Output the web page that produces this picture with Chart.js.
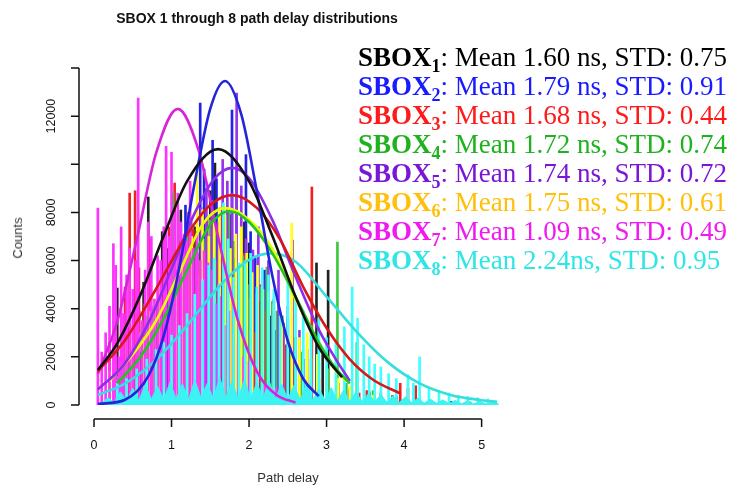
<!DOCTYPE html>
<html>
<head>
<meta charset="utf-8">
<script src="https://cdn.jsdelivr.net/npm/chart.js@4.4.0/dist/chart.umd.min.js"></script>
<style>
  html, body { margin: 0; padding: 0; background: #fff; }
  #wrap { position: relative; width: 731px; height: 490px; overflow: hidden; }
  #plot { position: absolute; left: 0; top: 0; }
  .title { position: absolute; left: 0; top: 10px; width: 514px; text-align: center;
           font: bold 14px "Liberation Sans", Arial, sans-serif; line-height: 16px; color: #111; }
  .xlab { position: absolute; left: 188px; top: 470px; width: 200px; text-align: center;
          font: 13px "Liberation Sans", Arial, sans-serif; line-height: 16px; color: #333; }
  .ylab { position: absolute; left: 18px; top: 238px; transform: translate(-50%, -50%) rotate(-90deg);
          font: 13px "Liberation Sans", Arial, sans-serif; line-height: 16px; color: #333; white-space: nowrap; }
  #legend { position: absolute; left: 358px; top: 43px; white-space: nowrap;
            font-family: "Liberation Serif", "Times New Roman", serif; font-size: 27px; line-height: 29px; }
  #legend div { height: 29px; }
  #legend b sub { font-size: 18px; line-height: 0; vertical-align: -6px; }
</style>
</head>
<body>
<div id="wrap">
  <canvas id="plot" width="731" height="490"></canvas>
  <div class="title">SBOX 1 through 8 path delay distributions</div>
  <div class="xlab">Path delay</div>
  <div class="ylab">Counts</div>
  <div id="legend">
    <div style="color:#000000"><b>SBOX<sub>1</sub></b>: Mean 1.60 ns, STD: 0.75</div>
    <div style="color:#1a1aff"><b>SBOX<sub>2</sub></b>: Mean 1.79 ns, STD: 0.91</div>
    <div style="color:#ff1a1a"><b>SBOX<sub>3</sub></b>: Mean 1.68 ns, STD: 0.44</div>
    <div style="color:#1fb21f"><b>SBOX<sub>4</sub></b>: Mean 1.72 ns, STD: 0.74</div>
    <div style="color:#7a16d6"><b>SBOX<sub>5</sub></b>: Mean 1.74 ns, STD: 0.72</div>
    <div style="color:#ffbf0a"><b>SBOX<sub>6</sub></b>: Mean 1.75 ns, STD: 0.61</div>
    <div style="color:#f01af0"><b>SBOX<sub>7</sub></b>: Mean 1.09 ns, STD: 0.49</div>
    <div style="color:#2ee6e6"><b>SBOX<sub>8</sub></b>: Mean 2.24ns, STD: 0.95</div>
  </div>
</div>
<script>
// Axis ticks
const xTicks = [0, 1, 2, 3, 4, 5];
const yTicks = [0, 2000, 4000, 6000, 8000, 10000, 12000, 14000];
const yTickLabels = ['0', '2000', '4000', '6000', '8000', '', '12000', ''];

// Histogram spikes (path delay in ns, counts)
const spikeX1 = [0.30, 0.38, 0.45, 0.58, 0.64, 0.70, 0.82, 0.88, 0.95, 1.05, 1.12, 1.18, 1.24, 1.30, 1.36, 1.42, 1.50, 1.56, 1.66, 1.76, 1.82, 1.88, 1.94, 2.00, 2.12, 2.18, 2.25, 2.38, 2.44, 2.52, 2.60, 2.70, 2.87, 2.95, 3.02, 3.25, 3.55, 3.90, 4.60, 4.85];
const spikeY1 = [4860, 2600, 3200, 3900, 5100, 8640, 4300, 7200, 6500, 5200, 8100, 6100, 4700, 7400, 6300, 5600, 8900, 10050, 6800, 7900, 6100, 5300, 7600, 6730, 3600, 5200, 4100, 3000, 3400, 2300, 2800, 1900, 5900, 2100, 5600, 900, 550, 350, 150, 120];
const spikeX2 = [0.55, 0.64, 0.72, 0.88, 0.96, 1.02, 1.12, 1.18, 1.25, 1.31, 1.37, 1.42, 1.47, 1.53, 1.58, 1.64, 1.70, 1.78, 1.84, 1.90, 1.96, 2.02, 2.08, 2.14, 2.20, 2.28, 2.35, 2.42, 2.50, 2.60, 2.80, 3.05, 3.40];
const spikeY2 = [1800, 2400, 2900, 3700, 5100, 6200, 4800, 8300, 7600, 6600, 12545, 9800, 6900, 11000, 9400, 8200, 7300, 12250, 9900, 5800, 10400, 7200, 6100, 4300, 5600, 3700, 3100, 2700, 2100, 1500, 900, 500, 300];
const spikeX3 = [0.20, 0.28, 0.35, 0.40, 0.46, 0.53, 0.58, 0.65, 0.72, 0.78, 0.84, 0.90, 0.97, 1.04, 1.10, 1.16, 1.22, 1.28, 1.34, 1.40, 1.46, 1.52, 1.58, 1.64, 1.72, 1.80, 1.87, 1.94, 2.00, 2.08, 2.15, 2.22, 2.30, 2.40, 2.48, 2.58, 2.68, 2.81, 2.90, 3.00, 3.15, 3.30, 3.42, 3.52, 3.62, 3.70, 3.85, 3.95, 4.05, 4.15];
const spikeY3 = [2600, 3100, 3300, 4900, 8800, 8900, 5700, 4200, 6900, 3500, 4600, 5600, 7400, 9220, 6800, 6100, 8000, 7300, 5400, 5000, 7800, 6600, 6000, 8200, 7000, 4800, 5600, 6300, 4400, 3000, 5000, 3900, 3100, 2200, 2500, 1800, 1400, 9055, 1100, 900, 900, 700, 500, 600, 450, 500, 400, 900, 700, 800];
const spikeX4 = [0.30, 0.40, 0.48, 0.55, 0.62, 0.69, 0.76, 0.84, 0.92, 1.02, 1.08, 1.14, 1.20, 1.26, 1.32, 1.38, 1.44, 1.50, 1.56, 1.62, 1.68, 1.74, 1.80, 1.86, 1.92, 1.98, 2.04, 2.10, 2.16, 2.23, 2.30, 2.36, 2.43, 2.50, 2.60, 2.68, 2.80, 2.90, 3.02, 3.14, 3.25, 3.39, 3.60, 3.85];
const spikeY4 = [1200, 1800, 2400, 2900, 3300, 3700, 4100, 4700, 5200, 8800, 6200, 6600, 7000, 5900, 6300, 5400, 6900, 7700, 7300, 6400, 7900, 8000, 6800, 5500, 6200, 5000, 5300, 4600, 4900, 5730, 4300, 3900, 3700, 3600, 2800, 2200, 1900, 1700, 1500, 6770, 900, 2600, 600, 400];
const spikeX5 = [0.60, 0.70, 0.78, 0.85, 0.92, 0.99, 1.06, 1.12, 1.18, 1.25, 1.32, 1.38, 1.45, 1.52, 1.60, 1.66, 1.72, 1.78, 1.84, 1.90, 1.96, 2.05, 2.12, 2.18, 2.25, 2.32, 2.38, 2.44, 2.50, 2.56, 2.65, 2.75, 2.88, 3.00, 3.15, 3.30];
const spikeY5 = [2200, 2600, 3100, 4400, 3800, 4700, 5600, 6300, 7100, 7800, 6400, 8200, 9000, 8500, 7600, 10200, 9300, 8800, 12960, 9100, 6900, 6440, 7400, 5200, 6000, 4400, 5600, 3400, 4100, 6850, 3100, 2300, 1900, 1200, 900, 600];
const spikeX6 = [0.20, 0.28, 0.35, 0.42, 0.50, 0.57, 0.64, 0.71, 0.78, 0.85, 0.92, 0.99, 1.06, 1.13, 1.20, 1.26, 1.33, 1.40, 1.48, 1.55, 1.62, 1.69, 1.76, 1.83, 1.90, 1.97, 2.04, 2.11, 2.18, 2.25, 2.32, 2.42, 2.55, 2.65, 2.75, 2.88, 3.00, 3.15, 3.30, 3.60];
const spikeY6 = [1400, 1700, 2200, 2600, 3300, 3000, 2800, 3900, 4400, 4800, 5100, 5600, 4600, 5900, 6200, 7000, 9890, 8100, 7000, 7600, 8200, 7900, 6500, 7100, 7400, 6300, 5500, 5800, 4800, 4700, 4200, 3600, 7560, 2800, 3000, 2100, 1600, 1100, 800, 400];
const spikeX7 = [0.05, 0.10, 0.15, 0.20, 0.25, 0.28, 0.32, 0.35, 0.38, 0.42, 0.46, 0.50, 0.54, 0.57, 0.62, 0.66, 0.70, 0.74, 0.78, 0.82, 0.86, 0.90, 0.93, 0.97, 1.00, 1.04, 1.08, 1.12, 1.16, 1.20, 1.24, 1.28, 1.33, 1.37, 1.42, 1.47, 1.52, 1.57, 1.62, 1.68, 1.74, 1.80, 1.86, 1.93, 2.00, 2.10, 2.20, 2.35, 2.50];
const spikeY7 = [8180, 2200, 3000, 4100, 6700, 5800, 2000, 7400, 3800, 5400, 6500, 4800, 6000, 12750, 3500, 5600, 7600, 7000, 4400, 6200, 6000, 7400, 10750, 7000, 10500, 8000, 8800, 7600, 7100, 6800, 9300, 6500, 7200, 6000, 6400, 5900, 5600, 4200, 4500, 3300, 3900, 2900, 2600, 2000, 1800, 1200, 900, 700, 500];
const spikeX8 = [0.30, 0.42, 0.55, 0.68, 0.80, 0.90, 1.00, 1.10, 1.20, 1.30, 1.40, 1.48, 1.55, 1.61, 1.67, 1.73, 1.80, 1.87, 1.95, 2.02, 2.10, 2.17, 2.25, 2.32, 2.40, 2.50, 2.60, 2.70, 2.80, 2.90, 3.00, 3.12, 3.23, 3.33, 3.40, 3.48, 3.55, 3.62, 3.70, 3.80, 3.90, 4.05, 4.12, 4.20, 4.32, 4.45, 4.58, 4.70, 4.82, 4.95, 5.08];
const spikeY8 = [900, 1100, 1500, 1900, 2300, 2600, 2900, 3300, 3800, 4600, 5200, 5800, 6100, 5000, 8400, 6900, 5300, 5900, 6000, 6300, 4900, 5700, 5400, 4800, 3700, 5200, 4500, 3900, 3300, 3600, 2800, 2600, 3250, 4900, 3600, 2500, 2000, 1700, 1580, 1300, 1100, 1250, 900, 2000, 700, 600, 500, 400, 350, 300, 250];

// Dense low-count floor of SBOX8
const floorX = [0.10, 0.18, 0.26, 0.34, 0.42, 0.50, 0.58, 0.66, 0.74, 0.82, 0.90, 0.98, 1.06, 1.14, 1.22, 1.30, 1.38, 1.46, 1.54, 1.62, 1.70, 1.78, 1.86, 1.94, 2.02, 2.10, 2.18, 2.26, 2.34, 2.42, 2.50, 2.58, 2.66, 2.74, 2.82, 2.90, 2.98, 3.06, 3.14, 3.22, 3.30, 3.38, 3.46, 3.54, 3.62, 3.70, 3.78, 3.86, 3.94, 4.02, 4.10, 4.18, 4.26, 4.34, 4.42, 4.50, 4.58, 4.66, 4.74, 4.82, 4.90, 4.98, 5.06, 5.14, 5.22];
const floorY = [100, 300, 120, 550, 180, 700, 200, 850, 250, 780, 220, 950, 260, 880, 240, 1050, 300, 900, 260, 1150, 320, 980, 280, 1050, 260, 920, 300, 1000, 250, 880, 230, 820, 220, 860, 200, 680, 210, 720, 170, 620, 160, 540, 140, 480, 130, 430, 110, 380, 110, 340, 90, 290, 80, 240, 70, 210, 60, 190, 50, 170, 45, 150, 40, 130, 35];

// Fitted density curves (scaled to counts)
const fitX1 = [0.05, 0.30, 0.60, 0.90, 1.20, 1.60, 2.00, 2.30, 2.60, 2.90, 3.20];
const fitY1 = [1450, 2560, 4580, 7030, 9290, 10630, 9290, 7030, 4500, 2400, 1150];
const fitX2 = [0.05, 0.40, 0.70, 0.90, 1.10, 1.30, 1.50, 1.69, 1.90, 2.10, 2.30, 2.50, 2.70, 2.90];
const fitY2 = [40, 220, 1200, 2880, 5700, 9250, 12310, 13460, 12070, 8890, 5370, 2660, 1080, 365];
const fitX3 = [0.05, 0.40, 0.80, 1.20, 1.50, 1.78, 2.10, 2.40, 2.70, 3.00, 3.30, 3.60, 3.95];
const fitY3 = [1400, 2690, 4820, 7080, 8310, 8720, 8190, 6880, 4900, 3200, 1900, 1050, 480];
const fitX4 = [0.30, 0.60, 0.90, 1.20, 1.50, 1.75, 2.00, 2.30, 2.60, 2.90, 3.10, 3.30];
const fitY4 = [900, 2000, 3600, 5600, 7500, 8050, 7600, 6300, 4500, 2600, 1600, 900];
const fitX5 = [0.05, 0.40, 0.70, 1.00, 1.30, 1.55, 1.78, 2.00, 2.30, 2.60, 2.90, 3.10, 3.30];
const fitY5 = [640, 1730, 3400, 5650, 7980, 9390, 9850, 9430, 7690, 5330, 3130, 2000, 1000];
const fitX6 = [0.20, 0.50, 0.80, 1.10, 1.40, 1.69, 2.00, 2.30, 2.60, 2.90, 3.10, 3.25];
const fitY6 = [1000, 2100, 3500, 5500, 7500, 8180, 7700, 6500, 4400, 2500, 1500, 1000];
const fitX7 = [0.05, 0.30, 0.55, 0.80, 1.08, 1.35, 1.60, 1.85, 2.10, 2.35, 2.60];
const fitY7 = [1300, 3470, 6850, 10450, 12300, 10570, 7000, 3580, 1400, 430, 100];
const fitX8 = [0.05, 0.40, 0.80, 1.20, 1.60, 2.00, 2.28, 2.60, 3.00, 3.40, 3.80, 4.20, 4.60, 5.00, 5.20];
const fitY8 = [415, 890, 1875, 3300, 4880, 6030, 6300, 5950, 4500, 3000, 1750, 900, 420, 200, 130];

const spikeX = [spikeX1, spikeX2, spikeX3, spikeX4, spikeX5, spikeX6, spikeX7, spikeX8];
const spikeY = [spikeY1, spikeY2, spikeY3, spikeY4, spikeY5, spikeY6, spikeY7, spikeY8];
const fitX = [fitX1, fitX2, fitX3, fitX4, fitX5, fitX6, fitX7, fitX8];
const fitY = [fitY1, fitY2, fitY3, fitY4, fitY5, fitY6, fitY7, fitY8];

const spikeColors = ['#222222', '#2222e6', '#ee2222', '#3cc83c', '#9933ee', '#ffff1a', '#ff33ff', '#40ffff'];
const curveColors = ['#111111', '#2424d8', '#d81818', '#22c422', '#8c2ee6', '#e6ff00', '#d824d8', '#36dede'];

const toPoints = (xs, ys) => xs.map((x, i) => ({ x, y: ys[i] }));

// R-style detached axes, drawn from the chart's own scales
const rAxes = {
    id: 'rAxes',
    afterDraw(chart) {
        const { ctx, scales: { x, y } } = chart;
        const axisX = 79;
        const axisY = 419;
        ctx.save();
        ctx.strokeStyle = '#111';
        ctx.fillStyle = '#111';
        ctx.lineWidth = 1.5;
        ctx.font = '12.5px "Liberation Sans", Arial, sans-serif';

        ctx.beginPath();
        ctx.moveTo(axisX, y.getPixelForValue(yTicks[0]));
        ctx.lineTo(axisX, y.getPixelForValue(yTicks[yTicks.length - 1]));
        yTicks.forEach(v => {
            const py = y.getPixelForValue(v);
            ctx.moveTo(axisX, py);
            ctx.lineTo(axisX - 8, py);
        });
        ctx.moveTo(x.getPixelForValue(xTicks[0]), axisY);
        ctx.lineTo(x.getPixelForValue(xTicks[xTicks.length - 1]), axisY);
        xTicks.forEach(v => {
            const px = x.getPixelForValue(v);
            ctx.moveTo(px, axisY);
            ctx.lineTo(px, axisY + 8);
        });
        ctx.stroke();

        ctx.textAlign = 'center';
        ctx.textBaseline = 'middle';
        yTicks.forEach((v, i) => {
            if (!yTickLabels[i]) return;
            ctx.save();
            ctx.translate(52, y.getPixelForValue(v));
            ctx.rotate(-Math.PI / 2);
            ctx.fillText(yTickLabels[i], 0, 0);
            ctx.restore();
        });
        xTicks.forEach(v => {
            ctx.fillText(String(v), x.getPixelForValue(v), 446);
        });
        ctx.restore();
    }
};

const datasets = [];

// spikes: SBOX1 at the back, SBOX8 on top
spikeX.forEach((xs, k) => {
    datasets.push({
        type: 'bar',
        data: toPoints(xs, spikeY[k]),
        backgroundColor: spikeColors[k],
        borderWidth: 0,
        barThickness: 2,
        grouped: false,
        order: 8 - k + 1
    });
});

datasets.push({
    type: 'line',
    data: toPoints(floorX, floorY),
    borderColor: '#3cf2f2',
    backgroundColor: '#3cf2f2',
    borderWidth: 1,
    pointRadius: 0,
    tension: 0,
    fill: 'origin',
    order: 0.5
});

fitX.forEach((xs, k) => {
    datasets.push({
        type: 'line',
        data: toPoints(xs, fitY[k]),
        borderColor: curveColors[k],
        borderWidth: 2.6,
        pointRadius: 0,
        cubicInterpolationMode: 'monotone',
        fill: false,
        order: 0
    });
});

new Chart(document.getElementById('plot').getContext('2d'), {
    type: 'bar',
    data: { datasets },
    options: {
        responsive: false,
        animation: false,
        layout: { padding: { left: 94, right: 230, top: 68, bottom: 85 } },
        plugins: {
            legend: { display: false },
            title: { display: false },
            tooltip: { enabled: false }
        },
        scales: {
            x: { type: 'linear', min: 0, max: 5.25, offset: false, display: false },
            y: { type: 'linear', min: 0, max: 14000, display: false }
        }
    },
    plugins: [rAxes]
});
</script>
</body>
</html>
